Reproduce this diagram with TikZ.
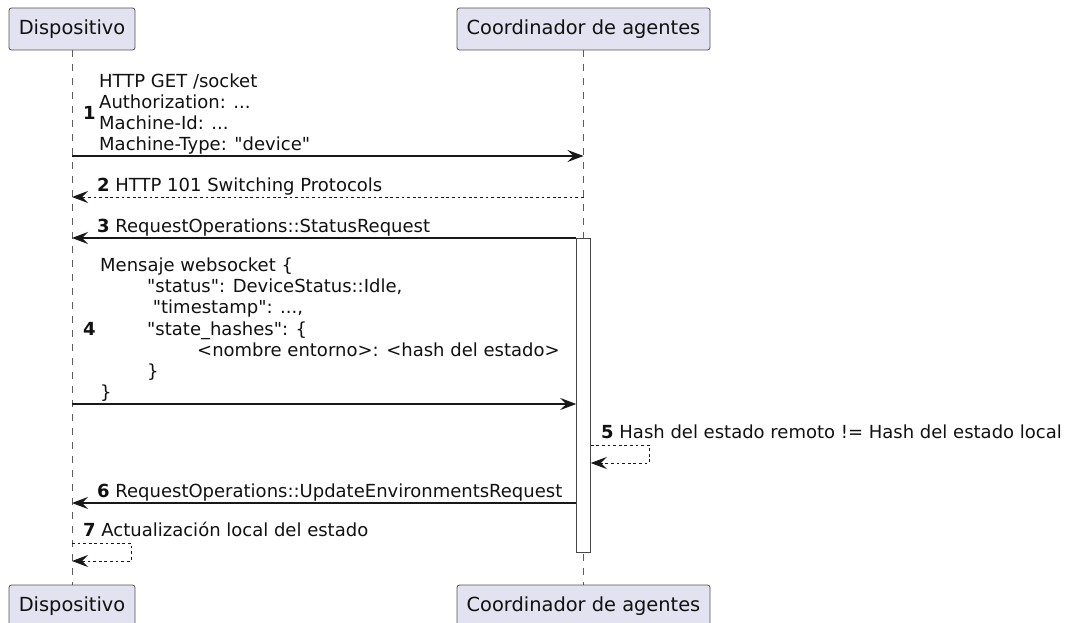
\documentclass[tikz,border=0pt]{standalone}
\usepackage{fontspec}
\setmainfont{DejaVu Sans}
% plain family without TeX ligatures, so " stays a straight quote
\newfontfamily\umlfont{DejaVu Sans}
\usetikzlibrary{arrows.meta}
\definecolor{partfill}{HTML}{E2E2F0}
\definecolor{ink}{HTML}{181818}
\definecolor{textink}{HTML}{111111}
\newcommand{\msgsize}{\umlfont\fontsize{18}{21.2}\selectfont}
\newcommand{\partsize}{\umlfont\fontsize{19.4}{22.6}\selectfont}

\begin{document}
\begin{tikzpicture}[x=1pt,y=-1pt,
  participant/.style={draw=ink!75, line width=0.8pt, fill=partfill, rounded corners=2.5pt,
    minimum height=42pt, inner sep=0pt, font=\partsize, text=textink},
  lifeline/.style={draw=ink!70, line width=0.8pt, dash pattern=on 7pt off 7pt},
  msg/.style={draw=ink, line width=1.2pt, -{Stealth[length=16pt,width=12pt,inset=6pt]}},
  reply/.style={msg, line width=1pt, dash pattern=on 2.8pt off 2.8pt},
  label/.style={font=\msgsize, inner sep=0pt, anchor=base west, text=textink},
  numlabel/.style={label, font=\msgsize\bfseries},
  block/.style={font=\msgsize, inner sep=0pt, anchor=north west, align=left, text=textink},
  activation/.style={draw=ink!80, line width=1pt, fill=white, minimum width=13.5pt,
    inner sep=0pt}
]
\useasboundingbox (0,0) rectangle (1065,623);

% participants, top and bottom
\node[participant, minimum width=126pt] (devtop) at (72,29) {Dispositivo};
\node[participant, minimum width=253pt] (cootop) at (583.5,29) {Coordinador de agentes};
\node[participant, minimum width=126pt] (devbot) at (72,606) {Dispositivo};
\node[participant, minimum width=253pt] (coobot) at (583.5,606) {Coordinador de agentes};

% lifelines
\draw[lifeline] (devtop) -- (devbot);
\draw[lifeline] (cootop) -- (coobot);

% activation of the coordinator
\node[activation, minimum height=314pt] (act) at (583.5,395) {};

% message rows
\coordinate (r1) at (0,156);
\coordinate (r2) at (0,197);
\coordinate (r3) at (0,238);
\coordinate (r4) at (0,404);
\coordinate (r5) at (0,445);
\coordinate (r5b) at (0,463);
\coordinate (r6) at (0,503);
\coordinate (r7) at (0,543);
\coordinate (r7b) at (0,561);

% messages
\draw[msg] (devtop |- r1) -- (cootop |- r1);
\draw[reply] (cootop |- r2) -- (devtop |- r2);
\draw[msg] (act.west |- r3) -- (devtop |- r3);
\draw[msg] (devtop |- r4) -- (act.west |- r4);
\draw[reply] (act.east |- r5) -- ++(58.5,0) |- (act.east |- r5b);
\draw[msg] (act.west |- r6) -- (devtop |- r6);
\draw[reply] (devtop |- r7) -- ++(59,0) |- (devtop |- r7b);

% message texts
\node[numlabel] (n1) at (83,120) {1};
\node[block] (t1) at (99,72.1) {\strut HTTP GET /socket\\Authorization: ...\\Machine-Id: ...\\Machine-Type: "device"};
\node[label] (t2) at (97,191.5) {\textbf{2} HTTP 101 Switching Protocols};
\node[label] (t3) at (97,232.5) {\textbf{3} RequestOperations::StatusRequest};
\node[numlabel] (n4) at (83,335) {4};
\node[block] (t4) at (100,256.5) {\strut Mensaje websocket \{\\
\hspace*{47pt}"status": DeviceStatus::Idle,\\
\hspace*{52.7pt}"timestamp": ...,\\
\hspace*{47pt}"state\_hashes": \{\\
\hspace*{97pt}<nombre entorno>: <hash del estado>\\
\hspace*{47pt}\}\\
\}};
\node[label] (t5) at (601,438.5) {\textbf{5} Hash del estado remoto != Hash del estado local};
\node[label] (t6) at (97,497.5) {\textbf{6} RequestOperations::UpdateEnvironmentsRequest};
\node[label] (t7) at (83,536.5) {\textbf{7} Actualización local del estado};
\end{tikzpicture}
\end{document}
